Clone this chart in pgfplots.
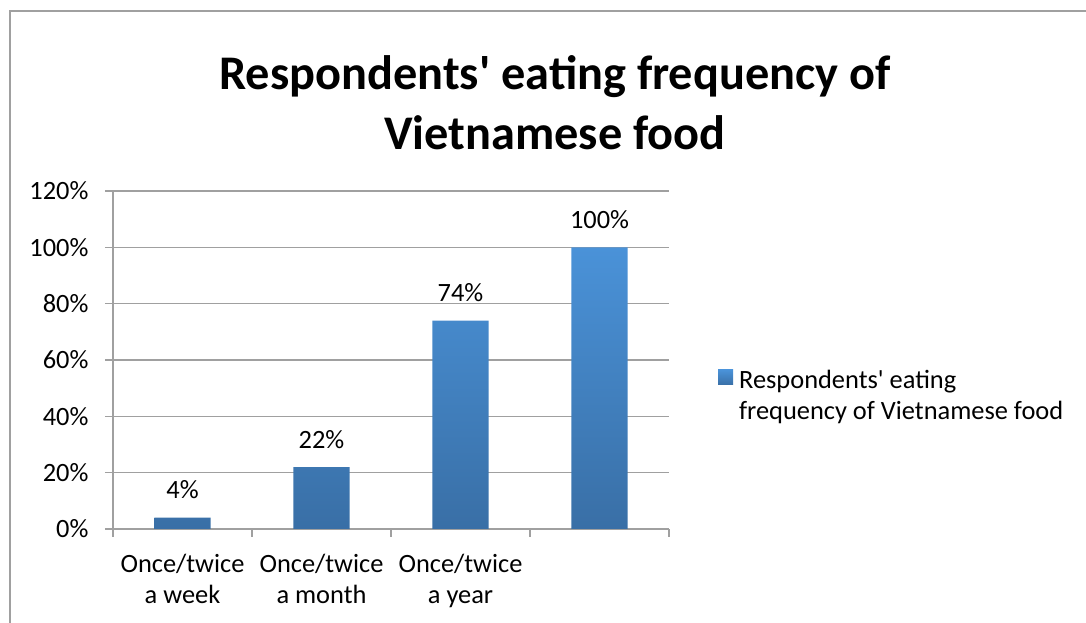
\documentclass[border=0pt]{standalone}
\usepackage{pgfplots}
\pgfplotsset{compat=1.18}
\usepackage{fontspec}
\setmainfont{Carlito}
\definecolor{gridc}{RGB}{160,160,160}
\definecolor{bartop}{RGB}{74,146,216}
\definecolor{barbot}{RGB}{57,111,166}
\newcommand{\bodyfont}{\fontsize{26.5}{31}\selectfont}
\newcommand{\q}{\textquotesingle}
\begin{document}
\begin{tikzpicture}[x=1bp,y=1bp]
\useasboundingbox (0,0) rectangle (1086,623);
\draw[gridc, line width=1.5bp] (10,0) -- (10,612) -- (1086,612);
\node[font=\fontsize{48.5}{55}\selectfont\bfseries, anchor=base] at (555,533) {Respondents\q{} eating frequency of};
\node[font=\fontsize{48.5}{55}\selectfont\bfseries, anchor=base] at (555,473) {Vietnamese food};
\begin{axis}[
  at={(113bp,94bp)}, anchor=south west,
  scale only axis, width=556bp, height=338bp,
  xmin=-0.5, xmax=3.5, ymin=0, ymax=120,
  axis x line*=bottom, axis y line*=left,
  axis line style={gridc, line width=1.2bp},
  tick align=outside, major tick length=8bp,
  tick style={gridc, line width=1.2bp},
  ytick={0,20,...,120},
  yticklabels={0\%,20\%,40\%,60\%,80\%,100\%,120\%},
  ymajorgrids, grid style={gridc, line width=1.2bp},
  xtick={-0.5,0.5,1.5,2.5,3.5},
  xticklabels={{Once/twice\\a week},{Once/twice\\a month},{Once/twice\\a year},{},{}},
  x tick label style={font=\bodyfont, align=center, xshift=69.5bp, yshift=-14bp, text=black},
  y tick label style={font=\bodyfont, text=black, xshift=-13bp},
  legend style={at={(1.088,0.475)}, anchor=north west, draw=none, fill=none, inner sep=0pt,
    font=\bodyfont, nodes={align=left}},
  legend cell align=left,
  clip=false,
]
\addplot[ybar, bar width=0.403, bar shift=0pt, draw=none, top color=bartop, bottom color=barbot,
  legend image code/.code={\fill[top color=bartop, bottom color=barbot] (0bp,11bp) rectangle (15bp,26bp); \path (19bp,11bp);}]
  coordinates {(0,4) (1,22) (2,74) (3,100)};
\addlegendentry{Respondents\q{} eating\\frequency of Vietnamese food}
\addplot[draw=none, mark=none, nodes near coords={\pgfmathprintnumber[assume math mode=true]{\pgfplotspointmeta}\%},
  point meta=y, nodes near coords style={font=\bodyfont, text=black, anchor=base, yshift=19bp}, forget plot]
  coordinates {(0,4) (1,22) (2,74) (3,100)};
\end{axis}
\end{tikzpicture}
\end{document}
